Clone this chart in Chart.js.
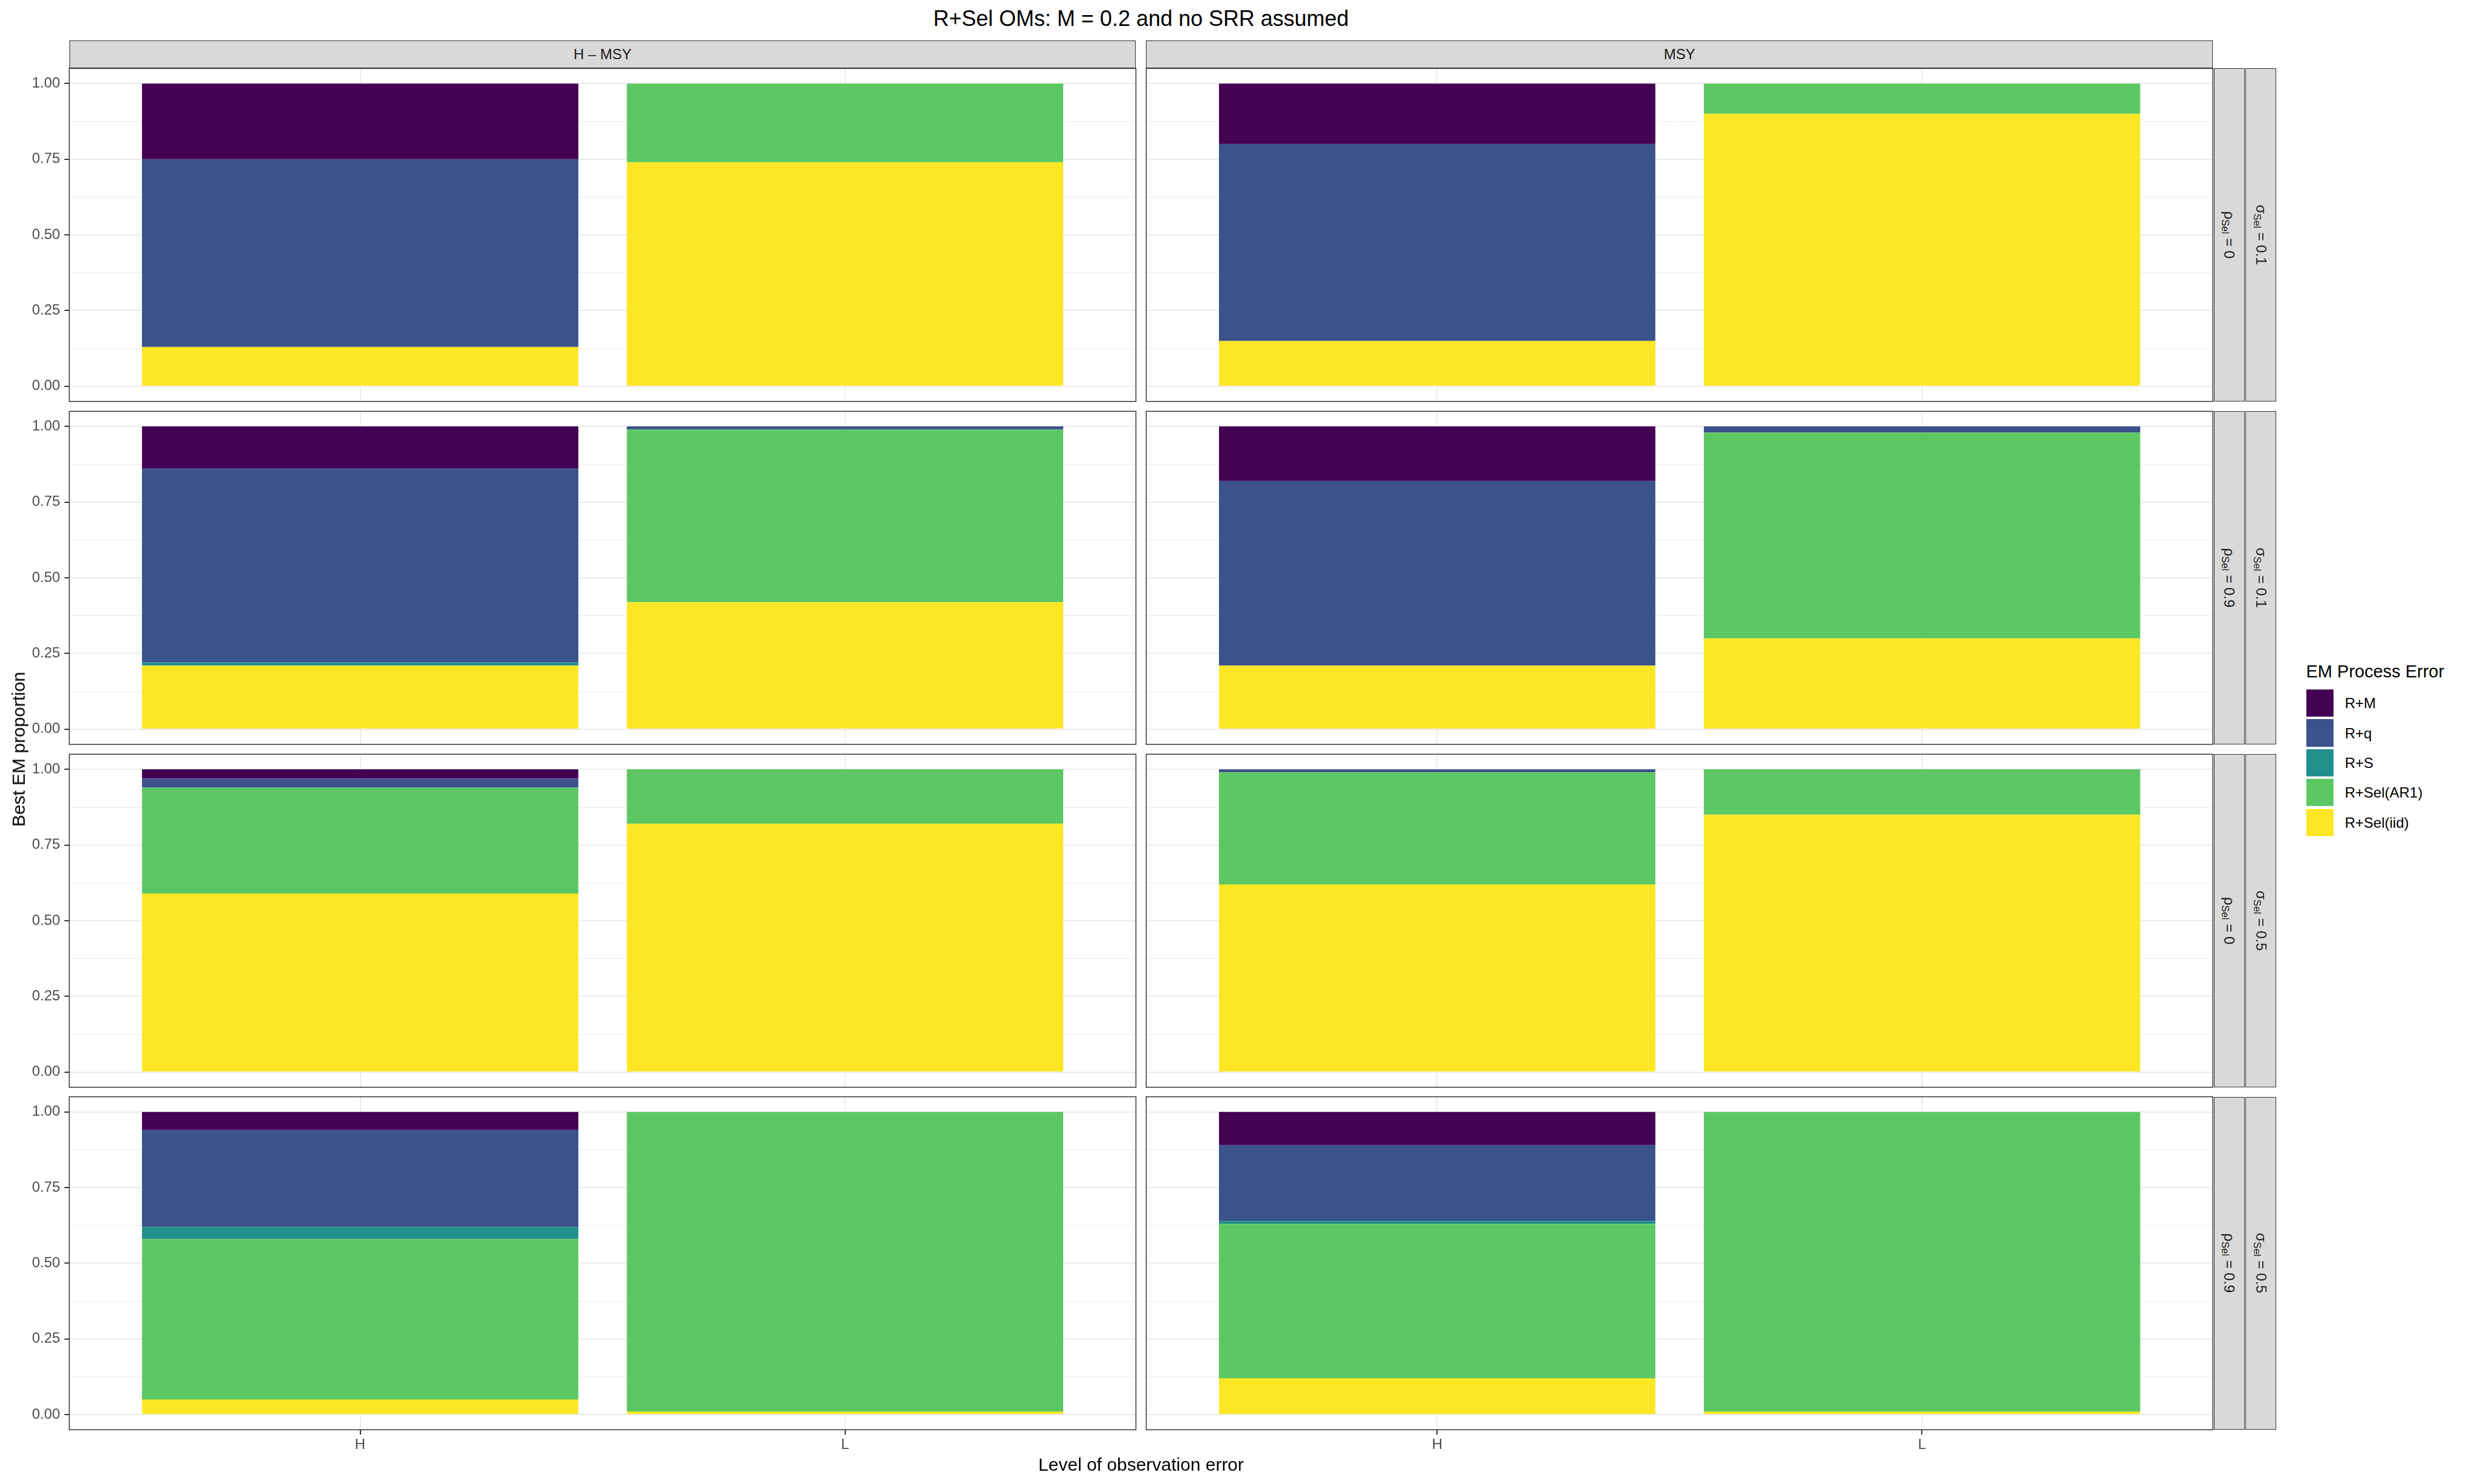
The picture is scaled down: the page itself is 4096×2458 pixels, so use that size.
<!DOCTYPE html>
<html>
<head>
<meta charset="utf-8">
<script src="https://cdn.jsdelivr.net/npm/chart.js@4.4.1/dist/chart.umd.min.js"></script>
<style>
html,body{margin:0;padding:0;background:#ffffff;}
body{width:4096px;height:2458px;position:relative;overflow:hidden;font-family:"Liberation Sans",Arial,Helvetica,sans-serif;}
.strip{position:absolute;box-sizing:border-box;background:#D9D9D9;border:1.5px solid #333333;color:#1A1A1A;font-size:24px;}
.strip .lab{position:absolute;left:50%;top:50%;white-space:nowrap;line-height:1;}
.txt{position:absolute;white-space:nowrap;color:#000;}
sub{font-size:70%;vertical-align:-0.25em;line-height:0;}
</style>
</head>
<body>
<script>
// ---------------- data ----------------
const categories = ['H', 'L'];
const colFacets = ['H \u2013 MSY', 'MSY'];
const rhoLabels = ['0', '0.9', '0', '0.9'];
const sigmaLabels = ['0.1', '0.1', '0.5', '0.5'];
const seriesNames = ['R+M', 'R+q', 'R+S', 'R+Sel(AR1)', 'R+Sel(iid)'];
const seriesColors = ['#440154', '#3B528B', '#21908C', '#5DC863', '#FDE725'];
const yTickValues = [0, 0.25, 0.5, 0.75, 1];
const yTickLabels = ['0.00', '0.25', '0.50', '0.75', '1.00'];
const yMinorValues = [0.125, 0.375, 0.625, 0.875];
const titleText = 'R+Sel OMs: M = 0.2 and no SRR assumed';
const xTitle = 'Level of observation error';
const yTitle = 'Best EM proportion';
const legendTitle = 'EM Process Error';

// proportions per panel (row-major: row1 H–MSY, row1 MSY, row2 H–MSY, ...), values for [H, L]
const valRM   = [[0.25,0],[0.20,0],[0.14,0],[0.18,0],[0.03,0],[0.00,0],[0.06,0],[0.11,0]];
const valRq   = [[0.62,0],[0.65,0],[0.64,0.01],[0.61,0.02],[0.03,0],[0.01,0],[0.32,0],[0.25,0]];
const valRS   = [[0,0],[0,0],[0.01,0],[0,0],[0,0],[0,0],[0.04,0],[0.01,0]];
const valAR1  = [[0,0.26],[0,0.10],[0,0.57],[0,0.68],[0.35,0.18],[0.37,0.15],[0.53,0.99],[0.51,0.99]];
const valIID  = [[0.13,0.74],[0.15,0.90],[0.21,0.42],[0.21,0.30],[0.59,0.82],[0.62,0.85],[0.05,0.01],[0.12,0.01]];

// ---------------- layout ----------------
const S = 4096 / 6000;
const FONT = '"Liberation Sans", Arial, Helvetica, sans-serif';
const panelX = [168, 2781];
const panelY = [166, 998, 1830, 2661];
const PW = 2588, PH = 808;
const seriesValues = [valRM, valRq, valRS, valAR1, valIID];
const stackOrder = [4, 3, 2, 1, 0]; // bottom to top

function add(tag, cls, css, html) {
  const e = document.createElement(tag);
  if (cls) e.className = cls;
  e.style.cssText = css;
  if (html !== undefined) e.innerHTML = html;
  document.body.appendChild(e);
  return e;
}

const borderPlugin = {
  id: 'panelBorder',
  afterDraw(chart) {
    const a = chart.chartArea, c = chart.ctx;
    c.save();
    c.strokeStyle = '#333333';
    c.lineWidth = 1.5;
    c.strokeRect(a.left, a.top, a.right - a.left, a.bottom - a.top);
    c.restore();
  }
};

function makePanel(r, c) {
  const idx = r * 2 + c;
  const px = panelX[c] * S, py = panelY[r] * S, pw = PW * S, ph = PH * S;
  const left = Math.round(px - (c === 0 ? 120 : 30));
  const top = Math.round(py - 30);
  const ML = px - left, MT = py - top, MR = 30, MB = (r === 3 ? 60 : 30);
  const W = Math.ceil(ML + pw + MR), H = Math.ceil(MT + ph + MB);
  const cv = document.createElement('canvas');
  cv.width = W; cv.height = H;
  cv.style.cssText = `position:absolute;left:${left}px;top:${top}px;width:${W}px;height:${H}px;`;
  document.body.appendChild(cv);
  const mr = W - ML - pw;
  const mb = H - MT - ph;
  const isMajor = v => yTickValues.indexOf(v) >= 0;
  new Chart(cv.getContext('2d'), {
    type: 'bar',
    data: {
      datasets: stackOrder.map(k => ({
        label: seriesNames[k],
        data: categories.map((cat, i) => ({ x: i, y: seriesValues[k][idx][i] })),
        backgroundColor: seriesColors[k],
        borderWidth: 0,
        categoryPercentage: 1,
        barPercentage: 0.9
      }))
    },
    options: {
      responsive: false,
      animation: false,
      devicePixelRatio: 1,
      events: [],
      layout: { padding: { left: 0, top: MT, right: mr, bottom: 0 } },
      plugins: { legend: { display: false }, tooltip: { enabled: false }, title: { display: false } },
      scales: {
        x: {
          type: 'linear', min: -0.6, max: 1.6, offset: false, stacked: true,
          afterBuildTicks: s => { s.ticks = categories.map((cat, i) => ({ value: i })); },
          afterFit: s => { s.height = mb; },
          ticks: {
            display: r === 3, autoSkip: false, maxRotation: 0, padding: 3,
            font: { family: FONT, size: 24 }, color: '#4D4D4D',
            callback: v => (categories[v] !== undefined ? categories[v] : '')
          },
          grid: { offset: false, color: '#EBEBEB', lineWidth: 2, drawTicks: r === 3, tickLength: 8, tickColor: '#333333', tickWidth: 2 },
          border: { display: false }
        },
        y: {
          type: 'linear', min: -0.05, max: 1.05, stacked: true,
          afterBuildTicks: s => { s.ticks = yMinorValues.concat(yTickValues).sort((a, b) => a - b).map(v => ({ value: v })); },
          afterFit: s => { s.width = ML; },
          ticks: {
            display: c === 0, autoSkip: false, padding: 7,
            font: { family: FONT, size: 24 }, color: '#4D4D4D',
            callback: v => { const i = yTickValues.indexOf(v); return i >= 0 ? yTickLabels[i] : ''; }
          },
          grid: {
            color: '#EBEBEB',
            lineWidth: ctx => (ctx.tick && isMajor(ctx.tick.value) ? 2 : 1),
            drawTicks: c === 0, tickLength: 8, tickWidth: 2,
            tickColor: ctx => (ctx.tick && isMajor(ctx.tick.value) ? '#333333' : 'rgba(0,0,0,0)')
          },
          border: { display: false }
        }
      }
    },
    plugins: [borderPlugin]
  });
}

for (let r = 0; r < 4; r++) for (let c = 0; c < 2; c++) makePanel(r, c);

// top strips
for (let c = 0; c < 2; c++) {
  const s = add('div', 'strip', `left:${panelX[c]*S}px;top:${98*S}px;width:${PW*S}px;height:${(166-98)*S}px;`);
  const l = document.createElement('span'); l.className = 'lab';
  l.style.transform = 'translate(-50%,-50%)';
  l.textContent = colFacets[c];
  s.appendChild(l);
}
// right strips
for (let r = 0; r < 4; r++) {
  const py = panelY[r] * S, ph = PH * S;
  const defs = [[5371, '\u03C1<sub>Sel</sub> = ' + rhoLabels[r]], [5448, '\u03C3<sub>Sel</sub> = ' + sigmaLabels[r]]];
  defs.forEach(([x, html]) => {
    const s = add('div', 'strip', `left:${x*S}px;top:${py}px;width:${75*S}px;height:${ph}px;`);
    const l = document.createElement('span'); l.className = 'lab';
    l.style.transform = 'translate(-50%,-50%) rotate(90deg)';
    l.innerHTML = html;
    s.appendChild(l);
  });
}

// title
const cx = (panelX[0] + panelX[1] + PW) / 2 * S;
add('div', 'txt', `left:${cx}px;top:13px;transform:translateX(-50%);font-size:36px;line-height:36px;`, '').textContent = titleText;
// x title
add('div', 'txt', `left:${cx}px;top:2411px;transform:translateX(-50%);font-size:30px;line-height:30px;`, '').textContent = xTitle;
// y title
const cy = (panelY[0] + panelY[3] + PH) / 2 * S;
add('div', 'txt', `left:31.4px;top:${cy}px;transform:translate(-50%,-50%) rotate(-90deg);font-size:30px;line-height:30px;`, '').textContent = yTitle;

// legend
add('div', 'txt', `left:${5595*S}px;top:1097.6px;font-size:29px;line-height:29px;`, '').textContent = legendTitle;
seriesNames.forEach((name, i) => {
  const kt = (1673 + 72.3 * i) * S, ks = 66 * S;
  add('div', '', `position:absolute;left:${5595*S}px;top:${kt}px;width:${ks}px;height:${ks}px;background:${seriesColors[i]};`);
  add('div', 'txt', `left:${5689*S}px;top:${kt + ks/2 - 11.3}px;font-size:24px;line-height:24px;`, '').textContent = name;
});
</script>
</body>
</html>
